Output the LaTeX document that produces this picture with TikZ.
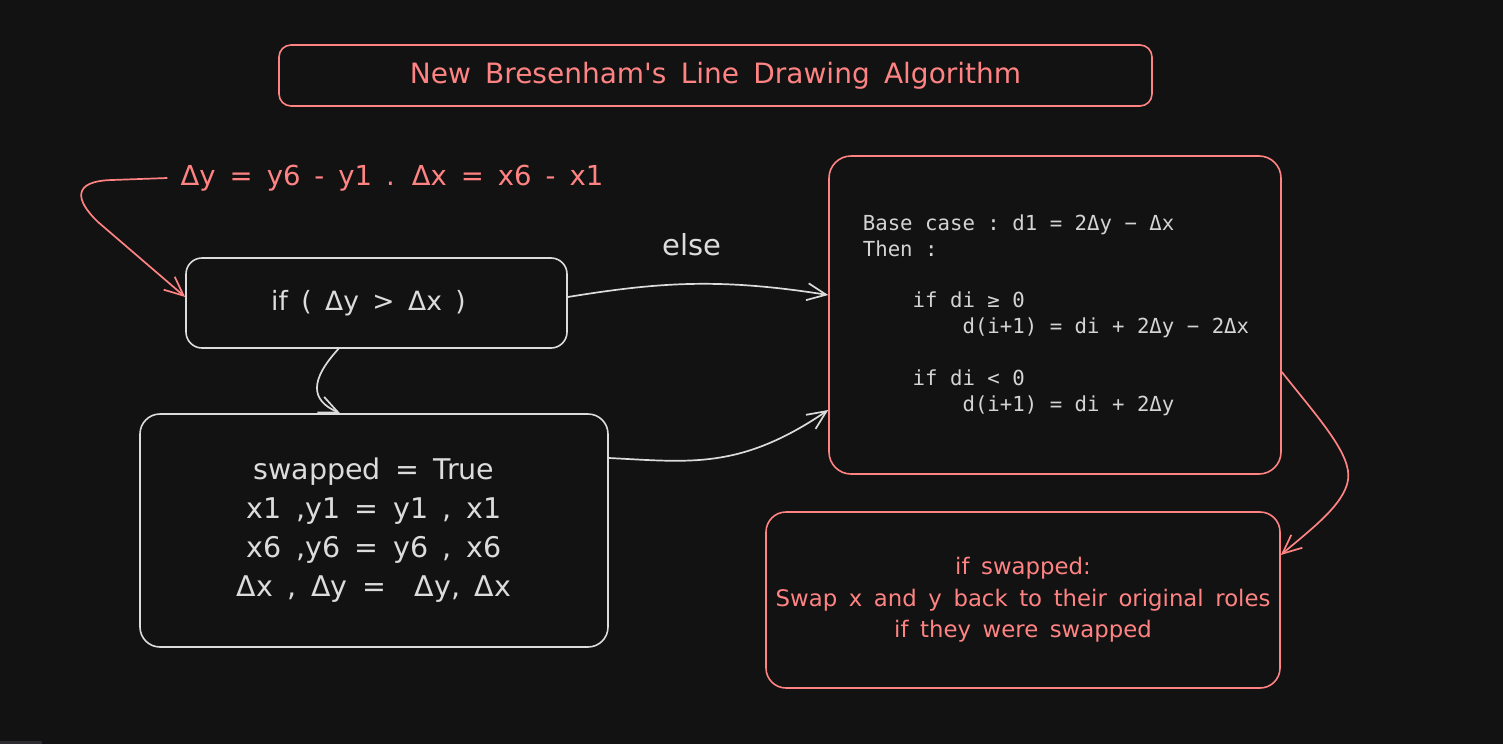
\documentclass[tikz,border=0pt]{standalone}
\usepackage{fontspec}
\setmainfont{DejaVu Sans}[WordSpace=1.6, Ligatures=TeXOff]
\setmonofont{DejaVu Sans Mono}
\usetikzlibrary{arrows.meta}
\definecolor{bg}{HTML}{121212}
\definecolor{salmon}{HTML}{FF8383}
\definecolor{chalk}{HTML}{DCDCDC}
\definecolor{monotext}{HTML}{D4D4D4}
\definecolor{barcol}{HTML}{2B2B30}
\begin{document}
\begin{tikzpicture}[x=1pt,y=-1pt,
  box/.style={draw, rounded corners=18pt, line width=1.6pt, inner sep=0pt, align=center},
  redbox/.style={box, draw=salmon, text=salmon},
  whitebox/.style={box, draw=chalk, text=chalk},
  link/.style={line width=1.7pt, -{Straight Barb[length=19pt,width=17pt]}},
  ]
\fill[bg] (0,0) rectangle (1503,744);
\useasboundingbox (0,0) rectangle (1503,744);
\fill[barcol] (0,740.5) rectangle (42,744);

\node[redbox, minimum width=873pt, minimum height=61pt, rounded corners=12pt,
      font=\fontsize{28}{34}\selectfont] (title) at (715.5,75.5)
      {New Bresenham's Line Drawing Algorithm};

\node[redbox, minimum width=452pt, minimum height=318pt, rounded corners=22pt,
      text=monotext, align=left, font=\ttfamily\fontsize{20.7}{25.8}\selectfont] (rule) at (1055,315)
      {\hspace*{2pt}Base case : d1 = 2Δy − Δx\\\hspace*{2pt}Then :\\[25.8pt]\hspace*{2pt}\phantom{0000}if di ≥ 0\\\hspace*{2pt}\phantom{00000000}d(i+1) = di + 2Δy − 2Δx\\[25.8pt]\hspace*{2pt}\phantom{0000}if di < 0\\\hspace*{2pt}\phantom{00000000}d(i+1) = di + 2Δy};

\node[whitebox, minimum width=381pt, minimum height=90pt, rounded corners=16pt,
      font=\fontsize{26.5}{30}\selectfont] (cond) at (376.5,303) {if ( Δy > Δx )\hspace*{16pt}};

\node[whitebox, minimum width=468pt, minimum height=233pt, rounded corners=20pt,
      font=\fontsize{28.5}{39}\selectfont] (swap) at (374,530.5)
      {swapped = True\\x1 ,y1 = y1 , x1\\x6 ,y6 = y6 , x6\\Δx , Δy = \ Δy, Δx};

\node[redbox, minimum width=514pt, minimum height=176pt, rounded corners=20pt,
      font=\fontsize{22.8}{31.5}\selectfont] (restore) at (1023,600)
      {if swapped:\\Swap x and y back to their original roles\\if they were swapped};

\node[text=salmon, font=\fontsize{27.5}{32}\selectfont, inner sep=0pt] (delta) at (392,178)
      {Δy = y6 - y1 . Δx = x6 - x1};

\node[text=chalk, font=\fontsize{29}{32}\selectfont, inner sep=0pt] (elselbl) at (692,245) {else};

\draw[link, salmon] ([xshift=-13pt]delta.west) -- (112,180)
      .. controls (72,181) and (75,200) .. (98,222) -- ([yshift=6pt]cond.west);
\draw[link, chalk] ([xshift=-38pt]cond.south)
      .. controls (310,380) and (310,400) .. ([xshift=-34pt]swap.north);
\draw[link, chalk] ([yshift=6pt]cond.east)
      .. controls (660,282) and (720,278) .. ([yshift=20pt]rule.west);
\draw[link, chalk] ([yshift=72.5pt]swap.east)
      .. controls (690,462) and (740,470) .. ([yshift=-95pt]rule.west);
\draw[link, salmon] ([yshift=-57pt]rule.east)
      .. controls (1320,420) and (1352,455) .. (1348,480)
      .. controls (1344,505) and (1310,530) .. ([yshift=45pt]restore.east);
\end{tikzpicture}
\end{document}
